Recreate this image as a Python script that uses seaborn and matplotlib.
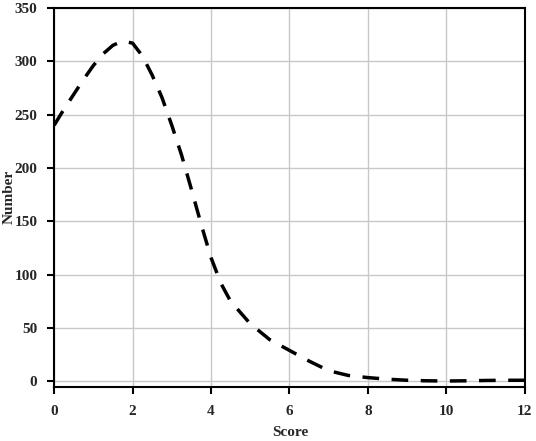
import numpy as np
import pandas as pd
import matplotlib
matplotlib.use('Agg')
import matplotlib.pyplot as plt
import seaborn as sns

# values
score = [0, 0.25, 0.5, 0.75, 1.0, 1.25, 1.5, 1.75, 2.0, 2.25, 2.5, 2.75, 3.0,
         3.25, 3.5, 3.75, 4.0, 4.25, 4.5, 5.0, 5.5, 6.0, 6.5, 7.0, 7.5, 8.0,
         8.5, 9.0, 9.5, 10.0, 10.5, 11.0, 11.5, 12.0]
number = [240, 255, 269, 283, 296, 307, 315, 319, 317, 305, 287, 266, 240,
          212, 180, 147, 116, 92, 75, 54, 39, 29, 19, 10, 5.5, 3.5,
          2, 1, 0.5, 0.3, 0.5, 0.8, 1, 1]

x_ticks = [0, 2, 4, 6, 8, 10, 12]
y_ticks = [0, 50, 100, 150, 200, 250, 300, 350]

df = pd.DataFrame({'Score': score, 'Number': number})

sns.set_style('whitegrid')
plt.rcParams['font.family'] = ['Liberation Serif', 'DejaVu Serif']

fig = plt.figure(figsize=(5.36, 4.41), dpi=100)
ax = fig.add_axes([0.101, 0.122, 0.878, 0.860])

sns.lineplot(data=df, x='Score', y='Number', ax=ax, color='black',
             linewidth=2.5, linestyle=(0, (4.8, 3.6)))

ax.set_xlim(0, 12)
ax.set_ylim(-5.5, 350)
ax.set_xticks(x_ticks)
ax.set_yticks(y_ticks)
ax.grid(True, color='#c8c8c8', linewidth=1.0)

for side in ['left', 'bottom', 'top', 'right']:
    ax.spines[side].set_visible(True)
    ax.spines[side].set_color('black')
    ax.spines[side].set_linewidth(1.5)

ax.tick_params(axis='both', direction='out', length=5, width=1.5,
               color='black', labelsize=11)
ax.tick_params(axis='x', pad=8)
ax.tick_params(axis='y', pad=7)
ax.tick_params(axis='both', bottom=True, left=True)
for lbl in ax.get_xticklabels() + ax.get_yticklabels():
    lbl.set_fontweight('bold')

ax.set_xlabel('')
ax.set_ylabel('')
fig.text(290 / 536, 1 - 433 / 441, 'Score', fontsize=11, fontweight='bold',
         ha='center', va='center')
fig.text(9 / 536, 1 - 197 / 441, 'Number', fontsize=11, fontweight='bold',
         ha='center', va='center', rotation=90)

fig.savefig('out.png', dpi=100)
plt.close(fig)
